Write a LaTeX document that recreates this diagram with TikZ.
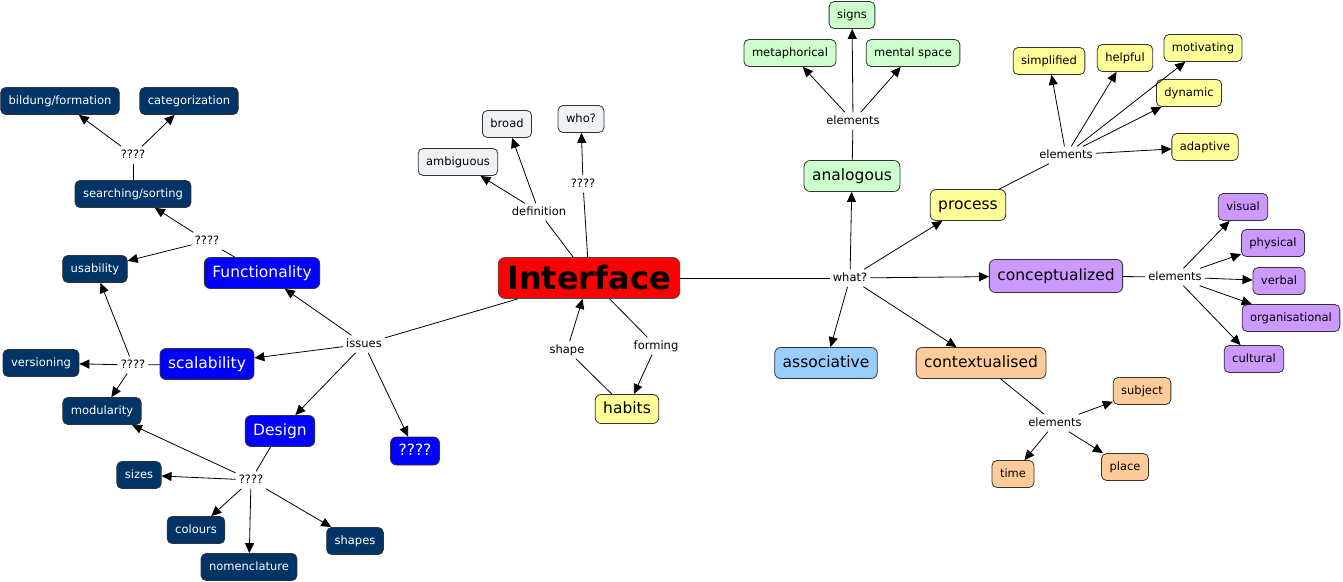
\documentclass[tikz,border=0pt]{standalone}
\usepackage{fontspec}
\setmainfont{DejaVu Sans}
\usetikzlibrary{arrows.meta}
\definecolor{cnavy}{RGB}{0,51,102}
\definecolor{cblue}{RGB}{0,0,255}
\definecolor{cgrey}{RGB}{238,242,244}
\definecolor{cred}{RGB}{255,0,0}
\definecolor{cyellow}{RGB}{255,255,153}
\definecolor{cgreen}{RGB}{204,255,204}
\definecolor{cpurple}{RGB}{204,153,255}
\definecolor{clblue}{RGB}{153,204,255}
\definecolor{corange}{RGB}{255,204,153}
\tikzset{
  base/.style={draw=black!80, rounded corners=5pt, line width=0.8pt, inner xsep=8pt, inner ysep=0pt,
    minimum height=27pt, font=\fontsize{11.5}{13}\selectfont, text height=8.5pt, text depth=2.5pt},
  big/.style={minimum height=31pt, rounded corners=6pt, font=\fontsize{15.5}{18}\selectfont,
    text height=11.5pt, text depth=3.5pt, inner xsep=8pt},
  navy/.style={base, fill=cnavy, text=white},
  blu/.style={base, big, fill=cblue, text=white},
  grey/.style={base, fill=cgrey},
  yel/.style={base, fill=cyellow},
  grn/.style={base, fill=cgreen},
  pur/.style={base, fill=cpurple},
  ora/.style={base, fill=corange},
  lab/.style={font=\fontsize{11.5}{13}\selectfont, inner sep=3pt, text height=8.5pt, text depth=2.5pt},
  ln/.style={line width=0.8pt, draw=black},
  arr/.style={ln, -{Triangle[length=10pt,width=9pt]}}
}
\begin{document}
\begin{tikzpicture}[x=1pt,y=-1pt]
\useasboundingbox (0,0) rectangle (1343,581);
% left navy nodes
\node[navy] (bild) at (60,101) {bildung/formation};
\node[navy] (cat) at (189,101) {categorization};
\node[navy] (srch) at (133,194) {searching/sorting};
\node[navy] (usab) at (95,269) {usability};
\node[navy] (vers) at (41,363) {versioning};
\node[navy] (modu) at (102,411) {modularity};
\node[navy] (sizes) at (139,475) {sizes};
\node[navy] (colours) at (196,530) {colours};
\node[navy] (nomen) at (249,567) {nomenclature};
\node[navy] (shapes) at (355,541) {shapes};
% blue nodes
\node[blu] (func) at (262,273) {Functionality};
\node[blu] (scal) at (207,364) {scalability};
\node[blu] (design) at (280,431) {Design};
\node[blu, minimum height=28pt] (qq) at (415,451) {????};
% center
\node[base, fill=cred, draw=black!70, rounded corners=7pt, minimum height=41pt, inner xsep=9pt,
  font=\fontsize{32}{36}\bfseries, text height=23pt, text depth=1pt] (iface) at (589,278) {Interface};
\node[grey] (amb) at (458,162) {ambiguous};
\node[grey] (broad) at (507,124) {broad};
\node[grey] (who) at (581,119) {who?};
\node[yel, big, minimum height=29pt] (habits) at (627,409) {habits};
% right
\node[grn] (signs) at (852,15) {signs};
\node[grn] (meta) at (790,53) {metaphorical};
\node[grn] (mental) at (913,53) {mental space};
\node[grn, big] (analog) at (852,176) {analogous};
\node[yel] (simpl) at (1049,61) {simplified};
\node[yel] (helpful) at (1125,58) {helpful};
\node[yel] (motiv) at (1203,48) {motivating};
\node[yel] (dyn) at (1189,93) {dynamic};
\node[yel] (adapt) at (1205,147) {adaptive};
\node[yel, big] (process) at (968,205) {process};
\node[pur] (visual) at (1243,207) {visual};
\node[pur] (phys) at (1273,243) {physical};
\node[pur] (verbal) at (1279,281) {verbal};
\node[pur] (org) at (1291,318) {organisational};
\node[pur] (cult) at (1254,359) {cultural};
\node[pur, big, minimum height=33pt] (concept) at (1056,276) {conceptualized};
\node[base, big, fill=clblue] (assoc) at (826,363) {associative};
\node[ora, big] (context) at (981,363) {contextualised};
\node[ora] (subj) at (1142,391) {subject};
\node[ora] (time) at (1013,474) {time};
\node[ora] (place) at (1125,467) {place};
% link labels
\node[lab] (lq1) at (133,155) {????};
\node[lab] (lq2) at (207,241) {????};
\node[lab] (lq3) at (133,365) {????};
\node[lab] (lq4) at (251,480) {????};
\node[lab] (issues) at (364,344) {issues};
\node[lab] (defn) at (539,212) {definition};
\node[lab] (lq5) at (583,184) {????};
\node[lab] (shape) at (567,350) {shape};
\node[lab] (forming) at (656,346) {forming};
\node[lab] (what) at (850,278) {what?};
\node[lab] (el1) at (853,121) {elements};
\node[lab] (el2) at (1066,155) {elements};
\node[lab] (el3) at (1175,277) {elements};
\node[lab] (el4) at (1055,423) {elements};
% connectors
\draw[ln] (iface) -- (defn);
\draw[arr] (defn) -- (amb);
\draw[arr] (defn) -- (broad);
\draw[ln] (iface) -- (lq5);
\draw[arr] (lq5) -- (who);
\draw[ln] (iface) -- (issues);
\draw[arr] (issues) -- (func);
\draw[arr] (issues) -- (scal);
\draw[arr] (issues) -- (design);
\draw[arr] (issues) -- (qq);
\draw[ln] (habits) -- (shape);
\draw[arr] (shape) -- (iface);
\draw[ln] (iface) -- (forming);
\draw[arr] (forming) -- (habits);
\draw[ln] (iface) -- (what);
\draw[arr] (what) -- (analog);
\draw[arr] (what) -- (process);
\draw[arr] (what) -- (concept);
\draw[arr] (what) -- (context);
\draw[arr] (what) -- (assoc);
\draw[ln] (analog) -- (el1);
\draw[arr] (el1) -- (signs);
\draw[arr] (el1) -- (meta);
\draw[arr] (el1) -- (mental);
\draw[ln] (process) -- (el2);
\draw[arr] (el2) -- (simpl);
\draw[arr] (el2) -- (helpful);
\draw[arr] (el2) -- (motiv);
\draw[arr] (el2) -- (dyn);
\draw[arr] (el2) -- (adapt);
\draw[ln] (concept) -- (el3);
\draw[arr] (el3) -- (visual);
\draw[arr] (el3) -- (phys);
\draw[arr] (el3) -- (verbal);
\draw[arr] (el3) -- (org);
\draw[arr] (el3) -- (cult);
\draw[ln] (context) -- (el4);
\draw[arr] (el4) -- (subj);
\draw[arr] (el4) -- (place);
\draw[arr] (el4) -- (time);
\draw[ln] (func) -- (lq2);
\draw[arr] (lq2) -- (srch);
\draw[arr] (lq2) -- (usab);
\draw[ln] (srch) -- (lq1);
\draw[arr] (lq1) -- (bild);
\draw[arr] (lq1) -- (cat);
\draw[ln] (scal) -- (lq3);
\draw[arr] (lq3) -- (vers);
\draw[arr] (lq3) -- (modu);
\draw[arr] (lq3) -- (usab);
\draw[ln] (design) -- (lq4);
\draw[arr] (lq4) -- (modu);
\draw[arr] (lq4) -- (sizes);
\draw[arr] (lq4) -- (colours);
\draw[arr] (lq4) -- (nomen);
\draw[arr] (lq4) -- (shapes);
\end{tikzpicture}
\end{document}
